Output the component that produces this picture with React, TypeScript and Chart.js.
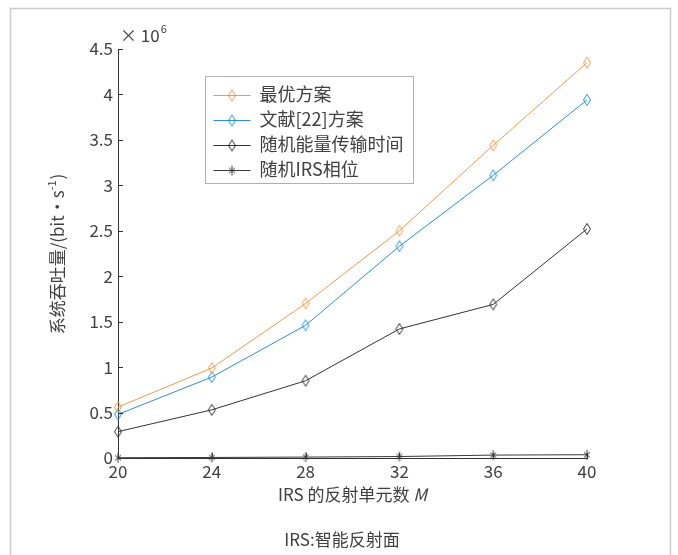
import React, { useEffect, useRef } from "react";
import { Chart, registerables } from "chart.js";

Chart.register(...registerables);

// ---- data (throughput in units of 10^6 bit/s) ----
const mValues = [20, 24, 28, 32, 36, 40];
const optimalScheme = [0.56, 0.99, 1.7, 2.5, 3.44, 4.35];
const ref22Scheme = [0.48, 0.89, 1.46, 2.33, 3.11, 3.94];
const randomEnergyTime = [0.29, 0.53, 0.85, 1.42, 1.69, 2.52];
const randomIrsPhase = [0.003, 0.006, 0.01, 0.016, 0.032, 0.036];

const seriesNames = ["最优方案", "文献[22]方案", "随机能量传输时间", "随机IRS相位"];
const seriesColors = ["#F39A4A", "#2A91D6", "#333333", "#3a3a3a"];
const seriesMarkers = ["diamond", "diamond", "diamond", "asterisk"];

const xTicks = [20, 24, 28, 32, 36, 40];
const yTicks = [0, 0.5, 1, 1.5, 2, 2.5, 3, 3.5, 4, 4.5];

const xTitle = "IRS 的反射单元数 ";
const xTitleVar = "M";
const yTitleMain = "系统吞吐量/(bit·s";
const yTitleSup = "-1";
const yTitleEnd = ")";
const caption = "IRS:智能反射面";

const FONT = '"Noto Sans CJK SC", "Noto Sans", sans-serif';
const TEXT = "#404040";

function makeMarker(kind: string, color: string): HTMLCanvasElement {
  const c = document.createElement("canvas");
  if (kind === "diamond") {
    c.width = 10;
    c.height = 14;
    const g = c.getContext("2d")!;
    g.strokeStyle = color;
    g.lineWidth = 1;
    g.beginPath();
    g.moveTo(5, 1.5);
    g.lineTo(8.5, 7);
    g.lineTo(5, 12.5);
    g.lineTo(1.5, 7);
    g.closePath();
    g.stroke();
  } else {
    c.width = 12;
    c.height = 12;
    const g = c.getContext("2d")!;
    g.strokeStyle = color;
    g.lineWidth = 1;
    g.beginPath();
    g.moveTo(6, 1);
    g.lineTo(6, 11);
    g.moveTo(3, 3.5);
    g.lineTo(9, 8.5);
    g.moveTo(9, 3.5);
    g.lineTo(3, 8.5);
    g.stroke();
  }
  return c;
}

let markerCache: HTMLCanvasElement[] = [];

const decorPlugin = {
  id: "decor",
  beforeDraw(chart: any) {
    const { ctx, width, height } = chart;
    ctx.save();
    ctx.fillStyle = "#ffffff";
    ctx.fillRect(0, 0, width, height);
    ctx.strokeStyle = "#cccccc";
    ctx.lineWidth = 1.5;
    ctx.beginPath();
    ctx.moveTo(10.5, height + 5);
    ctx.lineTo(10.5, 8.5);
    ctx.lineTo(670.5, 8.5);
    ctx.lineTo(670.5, height + 5);
    ctx.stroke();
    ctx.restore();
  },
  afterDraw(chart: any) {
    const { ctx, chartArea } = chart;
    const xs = chart.scales.x;
    const ys = chart.scales.y;
    ctx.save();
    // inward ticks
    ctx.strokeStyle = "#333";
    ctx.lineWidth = 1;
    ctx.beginPath();
    yTicks.forEach((v) => {
      const py = Math.round(ys.getPixelForValue(v)) + 0.5;
      ctx.moveTo(chartArea.left, py);
      ctx.lineTo(chartArea.left + 5, py);
    });
    xTicks.forEach((v) => {
      const px = Math.round(xs.getPixelForValue(v)) + 0.5;
      ctx.moveTo(px, chartArea.bottom);
      ctx.lineTo(px, chartArea.bottom - 5);
    });
    ctx.stroke();

    ctx.fillStyle = TEXT;
    // exponent label
    ctx.textBaseline = "alphabetic";
    ctx.textAlign = "left";
    ctx.font = `17px ${FONT}`;
    const ex = chartArea.left + 2;
    const ey = chartArea.top - 7;
    ctx.fillText("× 10", ex, ey);
    const w10 = ctx.measureText("× 10").width;
    ctx.font = `11px ${FONT}`;
    ctx.fillText("6", ex + w10 + 1, ey - 9);

    // x title
    ctx.font = `17px ${FONT}`;
    const wMain = ctx.measureText(xTitle).width;
    ctx.font = `italic 17px ${FONT}`;
    const wVar = ctx.measureText(xTitleVar).width;
    const cx = (chartArea.left + chartArea.right) / 2;
    const tx = cx - (wMain + wVar) / 2;
    const ty = chartArea.bottom + 37;
    ctx.textBaseline = "middle";
    ctx.font = `17px ${FONT}`;
    ctx.fillText(xTitle, tx, ty);
    ctx.font = `italic 17px ${FONT}`;
    ctx.fillText(xTitleVar, tx + wMain, ty);

    // y title (rotated)
    ctx.save();
    ctx.translate(58, (chartArea.top + chartArea.bottom) / 2 + 1);
    ctx.rotate(-Math.PI / 2);
    ctx.font = `17px ${FONT}`;
    const w1 = ctx.measureText(yTitleMain).width;
    ctx.font = `11px ${FONT}`;
    const w2 = ctx.measureText(yTitleSup).width;
    ctx.font = `17px ${FONT}`;
    const w3 = ctx.measureText(yTitleEnd).width;
    const sx = -(w1 + w2 + w3) / 2;
    ctx.textBaseline = "middle";
    ctx.fillText(yTitleMain, sx, 0);
    ctx.font = `11px ${FONT}`;
    ctx.fillText(yTitleSup, sx + w1, -6);
    ctx.font = `17px ${FONT}`;
    ctx.fillText(yTitleEnd, sx + w1 + w2 + 1, 0);
    ctx.restore();

    // caption
    ctx.font = `17px ${FONT}`;
    ctx.textAlign = "center";
    ctx.textBaseline = "middle";
    ctx.fillText(caption, 342, 540);

    // legend
    const lx = chartArea.left + 87.5;
    const ly = chartArea.top + 27.5;
    const lw = 208;
    const lh = 107;
    ctx.fillStyle = "#ffffff";
    ctx.fillRect(lx, ly, lw, lh);
    ctx.strokeStyle = "#b0b0b0";
    ctx.lineWidth = 1;
    ctx.strokeRect(lx, ly, lw, lh);
    seriesNames.forEach((name, i) => {
      const yy = ly + 18 + i * 25;
      ctx.strokeStyle = seriesColors[i];
      ctx.lineWidth = 1;
      ctx.beginPath();
      ctx.moveTo(lx + 8, Math.round(yy) + 0.5);
      ctx.lineTo(lx + 45, Math.round(yy) + 0.5);
      ctx.stroke();
      const mk = markerCache[i];
      ctx.drawImage(mk, Math.round(lx + 26.5 - mk.width / 2), Math.round(yy) - mk.height / 2 + 0.5);
      ctx.fillStyle = TEXT;
      ctx.textAlign = "left";
      ctx.textBaseline = "middle";
      ctx.font = `18px ${FONT}`;
      ctx.fillText(name, lx + 54, yy);
    });
    ctx.restore();
  },
};

export default function App() {
  const ref = useRef<HTMLCanvasElement | null>(null);

  useEffect(() => {
    if (!ref.current) return;
    markerCache = seriesColors.map((c, i) => makeMarker(seriesMarkers[i], c));
    const seriesData = [optimalScheme, ref22Scheme, randomEnergyTime, randomIrsPhase];
    const chart = new Chart(ref.current, {
      type: "line",
      data: {
        datasets: seriesNames.map((name, i) => ({
          label: name,
          data: mValues.map((m, j) => ({ x: m, y: seriesData[i][j] })),
          borderColor: seriesColors[i],
          backgroundColor: seriesColors[i],
          borderWidth: 1,
          pointStyle: markerCache[i],
          pointRadius: 5,
          pointHoverRadius: 5,
          tension: 0,
          clip: false,
        })),
      },
      options: {
        responsive: false,
        animation: false,
        devicePixelRatio: 1,
        events: [],
        layout: { padding: { left: 0, right: 91, top: 49, bottom: 0 } },
        plugins: {
          legend: { display: false },
          tooltip: { enabled: false },
          title: { display: false },
        },
        scales: {
          x: {
            type: "linear",
            min: 20,
            max: 40,
            afterBuildTicks: (scale: any) => {
              scale.ticks = xTicks.map((v) => ({ value: v }));
            },
            afterFit: (scale: any) => {
              scale.height = 97;
            },
            grid: { display: false, drawTicks: false },
            border: { display: true, color: "#333", width: 1 },
            ticks: {
              color: TEXT,
              font: { family: FONT, size: 17 },
              padding: 3,
              maxRotation: 0,
              callback: (v: any) => String(v),
            },
          },
          y: {
            type: "linear",
            min: 0,
            max: 4.5,
            afterBuildTicks: (scale: any) => {
              scale.ticks = yTicks.map((v) => ({ value: v }));
            },
            afterFit: (scale: any) => {
              scale.width = 118;
            },
            grid: { display: false, drawTicks: false },
            border: { display: true, color: "#333", width: 1 },
            ticks: {
              color: TEXT,
              font: { family: FONT, size: 17 },
              padding: 5,
              callback: (v: any) => String(v),
            },
          },
        },
      },
      plugins: [decorPlugin],
    } as any);
    return () => chart.destroy();
  }, []);

  return (
    <div style={{ position: "fixed", left: 0, top: 0, width: 678, height: 555, background: "#fff" }}>
      <canvas ref={ref} width={678} height={555} style={{ display: "block" }} />
    </div>
  );
}
